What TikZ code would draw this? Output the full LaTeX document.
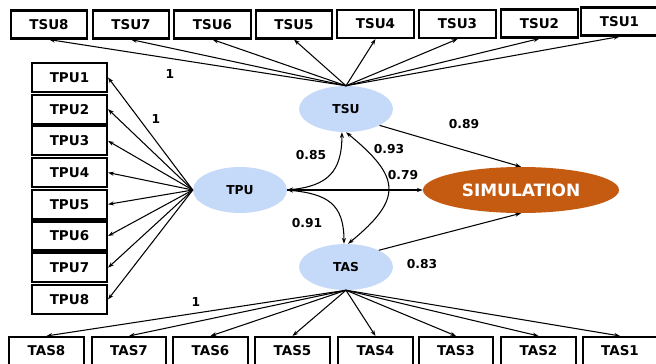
\documentclass[tikz,border=0pt]{standalone}
\usepackage{fontspec}
\setmainfont{DejaVu Sans}
\usetikzlibrary{arrows.meta,shapes.geometric,calc}
\definecolor{latblue}{RGB}{197,217,248}
\definecolor{simorange}{RGB}{197,90,17}

\begin{document}
\begin{tikzpicture}[x=0.03cm,y=-0.03cm,>={Stealth[length=5pt,width=3.5pt]},
    item/.style={draw,line width=1.8pt,fill=white,inner sep=0pt,
      minimum width=2.3cm,minimum height=0.84cm,font=\fontsize{11.5}{13}\selectfont\bfseries},
    latent/.style={ellipse,fill=latblue,inner sep=0pt,minimum width=2.82cm,
      minimum height=1.38cm,font=\fontsize{10.5}{12}\selectfont\bfseries},
    coef/.style={font=\fontsize{10.5}{12}\selectfont\bfseries,inner sep=1pt},
    link/.style={->,line width=0.9pt}]
        \useasboundingbox (0,0) rectangle (656,363);
        % latent variables
        \node[latent] (tsu) at (346,109) {TSU};
        \node[latent] (tpu) at (240,190) {TPU};
        \node[latent] (tas) at (346,267) {TAS};
        \node[ellipse,fill=simorange,inner sep=0pt,minimum width=5.88cm,minimum height=1.38cm,
          text=white,font=\fontsize{14.5}{16}\selectfont\bfseries] (sim) at (521,190) {SIMULATION};
        % indicators
        \foreach \i/\x/\y in {8/49/24.5,7/131/24.5,6/212.5/24.5,5/294/24.5,4/375.5/24,3/457.5/24,2/539.5/23.5,1/619.5/21.5} {
            \node[item] (tsu\i) at (\x,\y) {TSU\i};
            \draw[link] (tsu.north) -- (tsu\i.south);
        }
        \foreach \i in {1,...,8} {
            \node[item,minimum width=2.25cm,minimum height=0.87cm] (tpu\i) at (69.5,{77.5+31.7*(\i-1)}) {TPU\i};
            \draw[link] (tpu.west) -- (tpu\i.east);
        }
        \foreach \i/\x in {8/46.5,7/129,6/210.5,5/292.5,4/375.5,3/456,2/538.5,1/620} {
            \node[item,minimum width=2.24cm] (tas\i) at (\x,351) {TAS\i};
            \draw[link] (tas.south) -- (tas\i.north);
        }
        % structural paths
        \draw[link] (tsu.334) -- (sim.north);
        \draw[link] (tas.27) -- (sim.south);
        \draw[link] (tpu.east) -- (sim.west);
        \draw[<->,line width=0.9pt] (tpu.east) .. controls +(40,-4) and +(0,40) .. (tsu.260);
        \draw[<->,line width=0.9pt] (tpu.east) .. controls +(40,4) and +(0,-40) .. (tas.95);
        \draw[<->,line width=0.9pt] (tsu.south) .. controls +(55,45) and +(55,-45) .. (tas.85);
        % coefficients
        \node[coef] (c1) at (170,74) {1};
        \node[coef] (c2) at (156,119) {1};
        \node[coef] (c3) at (196,302) {1};
        \node[coef] (c85) at (311,155) {0.85};
        \node[coef] (c93) at (389,149) {0.93};
        \node[coef] (c79) at (403,175) {0.79};
        \node[coef] (c91) at (307,223) {0.91};
        \node[coef] (c89) at (464,124) {0.89};
        \node[coef] (c83) at (422,264) {0.83};
\end{tikzpicture}
\end{document}
